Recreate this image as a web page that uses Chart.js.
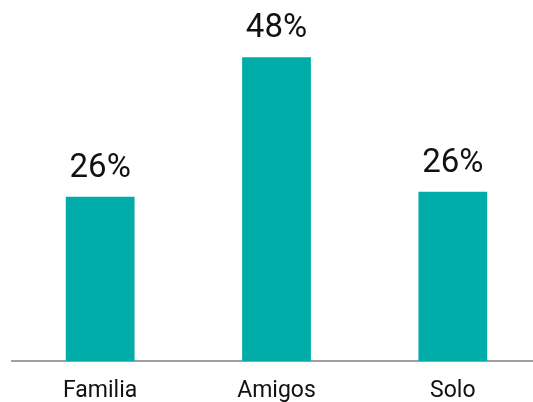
<!DOCTYPE html>
<html>
<head>
<meta charset="utf-8">
<script src="https://cdn.jsdelivr.net/npm/chart.js@4/dist/chart.umd.min.js"></script>
<style>
	html, body { margin: 0; padding: 0; background: #fff; overflow: hidden; }
	#wrap { width: 541px; height: 402px; }
</style>
</head>
<body>
<div id="wrap"><canvas id="Chart"></canvas></div>
<script>
// values (labels show the whole percent)
var categories = ["Familia", "Amigos", "Solo"];
var shares = [26.0, 48.1, 26.8];

var teal = "#00aca7";

// writes the percentage over each bar
var barLabels = {
	id: "barLabels",
	afterDatasetsDraw: function (chart)
	{
		var ctx = chart.ctx;
		var meta = chart.getDatasetMeta(0);
		ctx.save();
		ctx.font = "33px Roboto";
		ctx.fillStyle = "#111";
		ctx.textAlign = "center";
		ctx.textBaseline = "alphabetic";
		meta.data.forEach(function (bar, i)
		{
			ctx.fillText(Math.floor(shares[i]) + "%", bar.x, bar.y - 20);
		});
		ctx.restore();
	}
};

new Chart(document.getElementById("Chart"), {
	type: "bar",
	data: {
		labels: categories,
		datasets: [{
			data: shares,
			backgroundColor: teal,
			barPercentage: 0.78,
			categoryPercentage: 0.5
		}]
	},
	options: {
		responsive: true,
		maintainAspectRatio: false,
		animation: false,
		layout: { padding: { top: 1, left: 12, right: 0, bottom: 0 } },
		plugins: { legend: { display: false }, tooltip: { enabled: false } },
		scales: {
			x: {
				grid: { display: false },
				border: { display: true, color: "#a0a0a0", width: 2 },
				ticks: { color: "#111", font: { family: "Roboto", size: 23 }, padding: 8 },
				afterFit: function (scale) { scale.height = 41; }
			},
			y: {
				display: false,
				min: 0,
				max: 57
			}
		}
	},
	plugins: [barLabels]
});
</script>
</body>
</html>
